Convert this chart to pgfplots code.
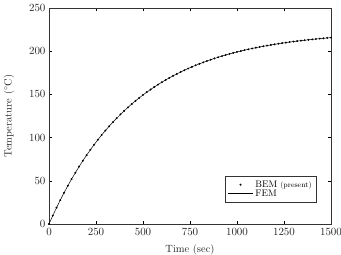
\documentclass[border=0pt]{standalone}
\usepackage{pgfplots}
\pgfplotsset{compat=1.18}
\pgfplotsset{
  dotlegend/.style={legend image code/.code={\draw[##1] plot coordinates {(0.44cm,0cm)};}},
  linelegend/.style={legend image code/.code={\draw[##1] (0cm,0cm) -- (0.88cm,0cm);}},
}
\begin{document}
\begin{tikzpicture}
\path[use as bounding box] (-49pt,-31pt) rectangle (292pt,224pt);
\begin{axis}[
  at={(0,0)}, anchor=south west,
  scale only axis, width=282pt, height=216pt,
  xmin=0, xmax=1500, ymin=0, ymax=250,
  xtick={0,250,500,750,1000,1250,1500},
  ytick={0,50,100,150,200,250},
  /pgf/number format/1000 sep={},
  tick align=inside, major tick length=3pt,
  tick style={black, line width=0.4pt},
  axis line style={line width=0.6pt, black!80},
  tick label style={font=\fontsize{10.5}{12}\selectfont, black!85},
  xticklabel style={yshift=-1pt},
  xlabel={Time (sec)}, ylabel={Temperature ($^\circ$C)},
  label style={font=\fontsize{10.5}{12}\selectfont, black!85},
  xlabel style={yshift=-2.5pt},
  ylabel style={yshift=8pt},
  legend style={at={(0.950,0.10)}, anchor=south east, font=\fontsize{9.5}{10}\selectfont, draw=black!80, line width=0.5pt, inner xsep=3pt, inner ysep=2.5pt, row sep=-3pt, cells={anchor=west}},
  legend cell align=left,
]
\addplot[only marks, mark=*, mark size=0.75pt, black, dotlegend] coordinates {
(0,0) (20,9.63) (40,18.85) (60,27.67) (80,36.12) (100,44.20) (120,51.93) (140,59.33) (160,66.41) (180,73.19)
(200,79.67) (220,85.88) (240,91.82) (260,97.50) (280,102.94) (300,108.15) (320,113.13) (340,117.90) (360,122.46) (380,126.83)
(400,131.01) (420,135.01) (440,138.83) (460,142.49) (480,146.00) (500,149.35) (520,152.56) (540,155.64) (560,158.57) (580,161.39)
(600,164.08) (620,166.66) (640,169.12) (660,171.48) (680,173.74) (700,175.90) (720,177.97) (740,179.95) (760,181.85) (780,183.66)
(800,185.39) (820,187.05) (840,188.64) (860,190.16) (880,191.62) (900,193.01) (920,194.34) (940,195.62) (960,196.84) (980,198.01)
(1000,199.12) (1020,200.19) (1040,201.22) (1060,202.20) (1080,203.13) (1100,204.03) (1120,204.89) (1140,205.71) (1160,206.50) (1180,207.25)
(1200,207.97) (1220,208.66) (1240,209.32) (1260,209.95) (1280,210.56) (1300,211.13) (1320,211.69) (1340,212.22) (1360,212.72) (1380,213.21)
(1400,213.67) (1420,214.12) (1440,214.54) (1460,214.95) (1480,215.34) (1500,215.71)
};
\addlegendentry{BEM {\fontsize{7.5}{8}\selectfont(present)}}
\addplot[black, line width=0.5pt, no marks, linelegend] coordinates {
(0,0) (20,9.63) (40,18.85) (60,27.67) (80,36.12) (100,44.20) (120,51.93) (140,59.33) (160,66.41) (180,73.19)
(200,79.67) (220,85.88) (240,91.82) (260,97.50) (280,102.94) (300,108.15) (320,113.13) (340,117.90) (360,122.46) (380,126.83)
(400,131.01) (420,135.01) (440,138.83) (460,142.49) (480,146.00) (500,149.35) (520,152.56) (540,155.64) (560,158.57) (580,161.39)
(600,164.08) (620,166.66) (640,169.12) (660,171.48) (680,173.74) (700,175.90) (720,177.97) (740,179.95) (760,181.85) (780,183.66)
(800,185.39) (820,187.05) (840,188.64) (860,190.16) (880,191.62) (900,193.01) (920,194.34) (940,195.62) (960,196.84) (980,198.01)
(1000,199.12) (1020,200.19) (1040,201.22) (1060,202.20) (1080,203.13) (1100,204.03) (1120,204.89) (1140,205.71) (1160,206.50) (1180,207.25)
(1200,207.97) (1220,208.66) (1240,209.32) (1260,209.95) (1280,210.56) (1300,211.13) (1320,211.69) (1340,212.22) (1360,212.72) (1380,213.21)
(1400,213.67) (1420,214.12) (1440,214.54) (1460,214.95) (1480,215.34) (1500,215.71)
};
\addlegendentry{FEM}
\end{axis}
\end{tikzpicture}
\end{document}
